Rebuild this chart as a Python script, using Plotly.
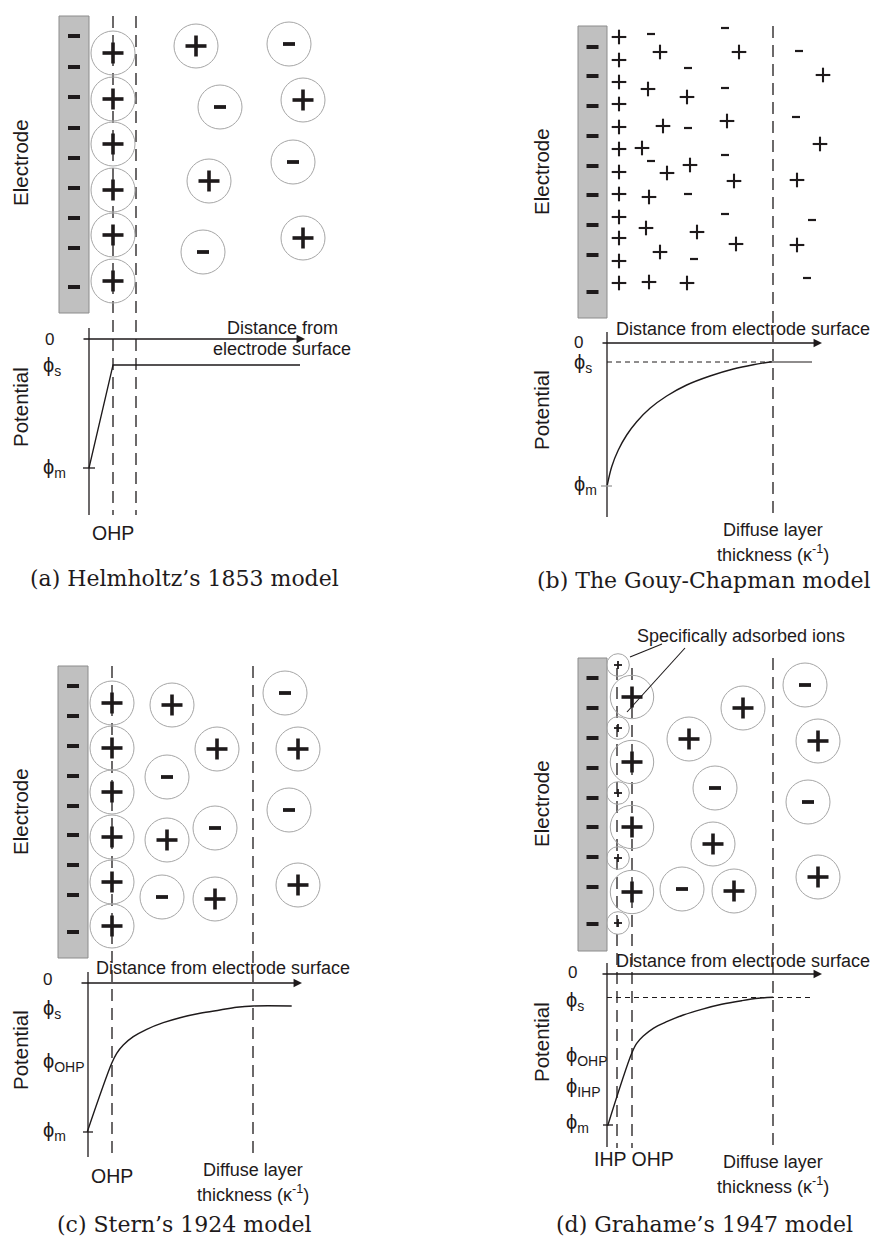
import plotly.graph_objects as go

W, H = 876, 1237
INK = '#1e1a1b'
SANS = 'Liberation Sans, Arial, sans-serif'
SERIF = 'DejaVu Serif, serif'

# ---------------- data (pixel-space positions of the schematic) ----------------
# Panel (a) Helmholtz
a_electrode_minus_y = [36, 67, 97, 128, 158, 188, 218, 248, 287]
a_ohp_ion_y = [53, 99, 144, 190, 235, 281]
a_free_x = [196, 289, 220, 303, 209, 293, 203, 303]
a_free_y = [46, 44, 107, 100, 181, 162, 252, 238]
a_free_q = ['+', '-', '-', '+', '+', '-', '-', '+']
a_pot_x = [89, 113, 300]
a_pot_y = [468, 365, 365]

# Panel (b) Gouy-Chapman
b_electrode_minus_y = [47, 76, 106, 136, 166, 195, 225, 255, 292]
b_plus_x = [619] * 12 + [660, 739, 648, 687, 663, 727, 642, 690, 667, 734, 649,
                         823, 820, 797, 646, 697, 736, 660, 797, 649, 687]
b_plus_y = [37, 60, 82, 104, 127, 149, 172, 194, 217, 238, 261, 283,
            52, 52, 89, 97, 126, 121, 148, 165, 173, 181, 197,
            75, 144, 180, 228, 232, 244, 252, 245, 282, 283]
b_minus_x = [651, 725, 688, 725, 799, 688, 796, 651, 725, 688, 725, 812, 694, 807]
b_minus_y = [34, 28, 68, 88, 51, 128, 117, 161, 155, 194, 214, 220, 259, 278]
b_pot_x = [607.3, 611.7, 618.3, 626.7, 636.7, 650, 666.7, 686.7, 710, 733.3, 753.3, 771.7]
b_pot_y = [485, 466.7, 450, 435, 421.7, 408.3, 396, 385, 376, 369, 364.7, 361.7]

# Panel (c) Stern
c_electrode_minus_y = [686, 716, 746, 776, 806, 835, 865, 895, 932]
c_ohp_ion_y = [703, 748, 792, 837, 882, 926]
c_free_x = [172, 217, 167, 167, 215, 162, 215, 285, 298, 289, 298]
c_free_y = [705, 749, 777, 840, 828, 897, 899, 693, 749, 810, 885]
c_free_q = ['+', '+', '-', '+', '-', '-', '+', '-', '+', '-', '+']
c_pot_x = [87.3, 111.7, 116.7, 123.3, 133.3, 146.7, 163.3, 180, 200, 220, 236.7, 253.3, 291.7]
c_pot_y = [1131.7, 1063.3, 1053.3, 1045, 1036.7, 1029.3, 1022.7, 1017.7, 1013.3, 1010, 1007.3, 1006, 1006]

# Panel (d) Grahame
d_electrode_minus_y = [678, 708, 738, 768, 798, 827, 857, 887, 924]
d_ihp_ion_y = [665, 728, 793, 858, 923]
d_ohp_ion_y = [697, 762, 827, 892]
d_free_x = [743, 689, 715, 713, 682, 734, 805, 818, 808, 818]
d_free_y = [708, 739, 788, 844, 889, 891, 685, 741, 802, 877]
d_free_q = ['+', '+', '-', '+', '-', '+', '-', '+', '-', '+']
d_pot_x = [607.7, 631.7, 636.7, 643.3, 653.3, 666.7, 683.3, 701.7, 721.7, 741.7, 758.3, 773.3]
d_pot_y = [1125.7, 1053.3, 1043.3, 1036, 1028.3, 1021.7, 1015, 1009.3, 1004.3, 1000.7, 998.3, 997.3]

captions = ["(a) Helmholtz’s 1853 model", "(b) The Gouy-Chapman model",
            "(c) Stern’s 1924 model", "(d) Grahame’s 1947 model"]

# ---------------- figure ----------------
fig = go.Figure()
shapes = []
ann = []


def glyphs(xs, ys, kind, arm, width):
    px, py = [], []
    for x, y in zip(xs, ys):
        px += [x - arm, x + arm, None]
        py += [y, y, None]
        if kind == '+':
            px += [x, x, None]
            py += [y - arm, y + arm, None]
    fig.add_trace(go.Scatter(x=px, y=py, mode='lines', line=dict(color=INK, width=width),
                             hoverinfo='skip', showlegend=False))


def circles(xs, ys, r):
    for x, y in zip(xs, ys):
        shapes.append(dict(type='circle', xref='x', yref='y', x0=x - r, x1=x + r, y0=y - r, y1=y + r,
                           line=dict(color='#a6a6a6', width=1), layer='above'))


def ions(xs, ys, qs, r=22, arm=10.5, width=3.6, marm=6):
    circles(xs, ys, r)
    glyphs([x for x, q in zip(xs, qs) if q == '+'], [y for y, q in zip(ys, qs) if q == '+'], '+', arm, width)
    glyphs([x for x, q in zip(xs, qs) if q == '-'], [y for y, q in zip(ys, qs) if q == '-'], '-', marm, 3.8)


def line(x0, y0, x1, y1, dash=None, width=1.3, color=INK):
    d = dict(type='line', xref='x', yref='y', x0=x0, y0=y0, x1=x1, y1=y1,
             line=dict(color=color, width=width))
    if dash:
        d['line']['dash'] = dash
    shapes.append(d)


def electrode(x0, x1, y0, y1, minus_y):
    shapes.append(dict(type='rect', xref='x', yref='y', x0=x0, x1=x1, y0=y0, y1=y1,
                       fillcolor='#c0c0c0', line=dict(color='#8c8c8c', width=1), layer='below'))
    glyphs([(x0 + x1) / 2] * len(minus_y), minus_y, '-', 6, 4)


def text(x, y, s, size=18, angle=0, family=SANS, xanchor='center'):
    ann.append(dict(x=x, y=y, xref='x', yref='y', text=s, showarrow=False, textangle=angle,
                    font=dict(family=family, size=size, color=INK), xanchor=xanchor, yanchor='middle'))


def arrow(x0, y, x1):
    ann.append(dict(x=x1, y=y, ax=x0, ay=y, xref='x', yref='y', axref='x', ayref='y', text='',
                    showarrow=True, arrowhead=2, arrowsize=1.3, arrowwidth=1.3, arrowcolor=INK, standoff=0))


LD = '12px,7px'
CAP = 22

# ---- (a) ----
electrode(59, 89, 16, 313, a_electrode_minus_y)
line(113, 16, 113, 515, LD)
line(136, 16, 136, 515, LD)
ions([113] * len(a_ohp_ion_y), a_ohp_ion_y, ['+'] * len(a_ohp_ion_y))
ions(a_free_x, a_free_y, a_free_q)
line(89, 328, 89, 515)
arrow(82, 339, 305)
line(83, 468, 95, 468)
fig.add_trace(go.Scatter(x=a_pot_x, y=a_pot_y, mode='lines', line=dict(color=INK, width=1.3),
                         hoverinfo='skip', showlegend=False))
text(282, 328, 'Distance from')
text(282, 349, 'electrode surface')
text(49, 339, '0', 17)
text(41, 366, 'ϕ<sub>s</sub>', 20, xanchor='left')
text(41, 468, 'ϕ<sub>m</sub>', 20, xanchor='left')
text(20, 163, 'Electrode', 20.5, -90)
text(20, 407, 'Potential', 20.5, -90)
text(113, 533, 'OHP', 19.5)
text(184, 578, captions[0], CAP, family=SERIF)

# ---- (b) ----
electrode(578, 607, 26, 318, b_electrode_minus_y)
line(773, 26, 773, 518, LD)
glyphs(b_plus_x, b_plus_y, '+', 7.3, 2.1)
glyphs(b_minus_x, b_minus_y, '-', 4, 2.2)
line(607, 332, 607, 517)
arrow(601, 343, 822)
line(601, 486, 612, 486, color='#999999')
line(607, 362, 773, 362, '5px,4px', 1)
line(773, 362, 812, 362, width=1.2)
fig.add_trace(go.Scatter(x=b_pot_x, y=b_pot_y, mode='lines', line=dict(color=INK, width=1.4, shape='spline'),
                         hoverinfo='skip', showlegend=False))
text(743, 329, 'Distance from electrode surface')
text(578, 342, '0', 17)
text(572, 363, 'ϕ<sub>s</sub>', 20, xanchor='left')
text(572, 485, 'ϕ<sub>m</sub>', 20, xanchor='left')
text(773, 530, 'Diffuse layer')
text(773, 553, 'thickness (κ<sup>-1</sup>)')
text(541, 172, 'Electrode', 20.5, -90)
text(541, 410, 'Potential', 20.5, -90)
text(704, 580, captions[1], CAP, family=SERIF)

# ---- (c) ----
electrode(58, 88, 666, 958, c_electrode_minus_y)
line(112, 666, 112, 1157, LD)
line(253, 666, 253, 1157, LD)
ions([112] * len(c_ohp_ion_y), c_ohp_ion_y, ['+'] * len(c_ohp_ion_y))
ions(c_free_x, c_free_y, c_free_q)
line(88, 972, 88, 1157)
arrow(80, 983, 302)
line(83, 1132, 93, 1132)
fig.add_trace(go.Scatter(x=c_pot_x, y=c_pot_y, mode='lines', line=dict(color=INK, width=1.4, shape='spline'),
                         hoverinfo='skip', showlegend=False))
text(223, 968, 'Distance from electrode surface')
text(47, 979, '0', 17)
text(41, 1009, 'ϕ<sub>s</sub>', 20, xanchor='left')
text(41, 1062, 'ϕ<sub>OHP</sub>', 20, xanchor='left')
text(41, 1131, 'ϕ<sub>m</sub>', 20, xanchor='left')
text(112, 1176, 'OHP', 19.5)
text(253, 1170, 'Diffuse layer')
text(253, 1193, 'thickness (κ<sup>-1</sup>)')
text(20, 812, 'Electrode', 20.5, -90)
text(20, 1050, 'Potential', 20.5, -90)
text(184, 1224, captions[2], CAP, family=SERIF)

# ---- (d) ----
electrode(578, 607, 658, 951, d_electrode_minus_y)
line(617, 668, 617, 1148, LD)
line(632, 668, 632, 1148, LD)
line(773, 658, 773, 1149, LD)
circles([618] * len(d_ihp_ion_y), d_ihp_ion_y, 11.3)
glyphs([618] * len(d_ihp_ion_y), d_ihp_ion_y, '+', 4, 1.8)
ions([632] * len(d_ohp_ion_y), d_ohp_ion_y, ['+'] * len(d_ohp_ion_y), r=21.7)
ions(d_free_x, d_free_y, d_free_q)
line(662, 644, 630, 657, width=1.1)
line(685, 648, 627, 712, width=1.1)
text(741, 636, 'Specifically adsorbed ions')
line(607, 963, 607, 1147)
arrow(601, 974, 822)
line(603, 1125, 613, 1125)
line(607, 997.5, 810, 997.5, '5px,4px', 1)
fig.add_trace(go.Scatter(x=d_pot_x, y=d_pot_y, mode='lines', line=dict(color=INK, width=1.4, shape='spline'),
                         hoverinfo='skip', showlegend=False))
text(743, 961, 'Distance from electrode surface')
text(572, 972, '0', 17)
text(564, 1001, 'ϕ<sub>s</sub>', 20, xanchor='left')
text(564, 1056, 'ϕ<sub>OHP</sub>', 20, xanchor='left')
text(564, 1087, 'ϕ<sub>IHP</sub>', 20, xanchor='left')
text(564, 1123, 'ϕ<sub>m</sub>', 20, xanchor='left')
text(634, 1159, 'IHP OHP', 19.5)
text(773, 1162, 'Diffuse layer')
text(773, 1185, 'thickness (κ<sup>-1</sup>)')
text(541, 804, 'Electrode', 20.5, -90)
text(541, 1042, 'Potential', 20.5, -90)
text(704, 1224, captions[3], CAP, family=SERIF)

fig.update_layout(
    width=W, height=H, margin=dict(l=0, r=0, t=0, b=0),
    paper_bgcolor='white', plot_bgcolor='white', showlegend=False,
    shapes=shapes, annotations=ann,
    xaxis=dict(range=[0, W], visible=False, fixedrange=True),
    yaxis=dict(range=[H, 0], visible=False, fixedrange=True),
)
fig.write_html('out.html', config={'displayModeBar': False},
               post_script="document.body.style.margin='0';document.body.style.overflow='hidden';")
